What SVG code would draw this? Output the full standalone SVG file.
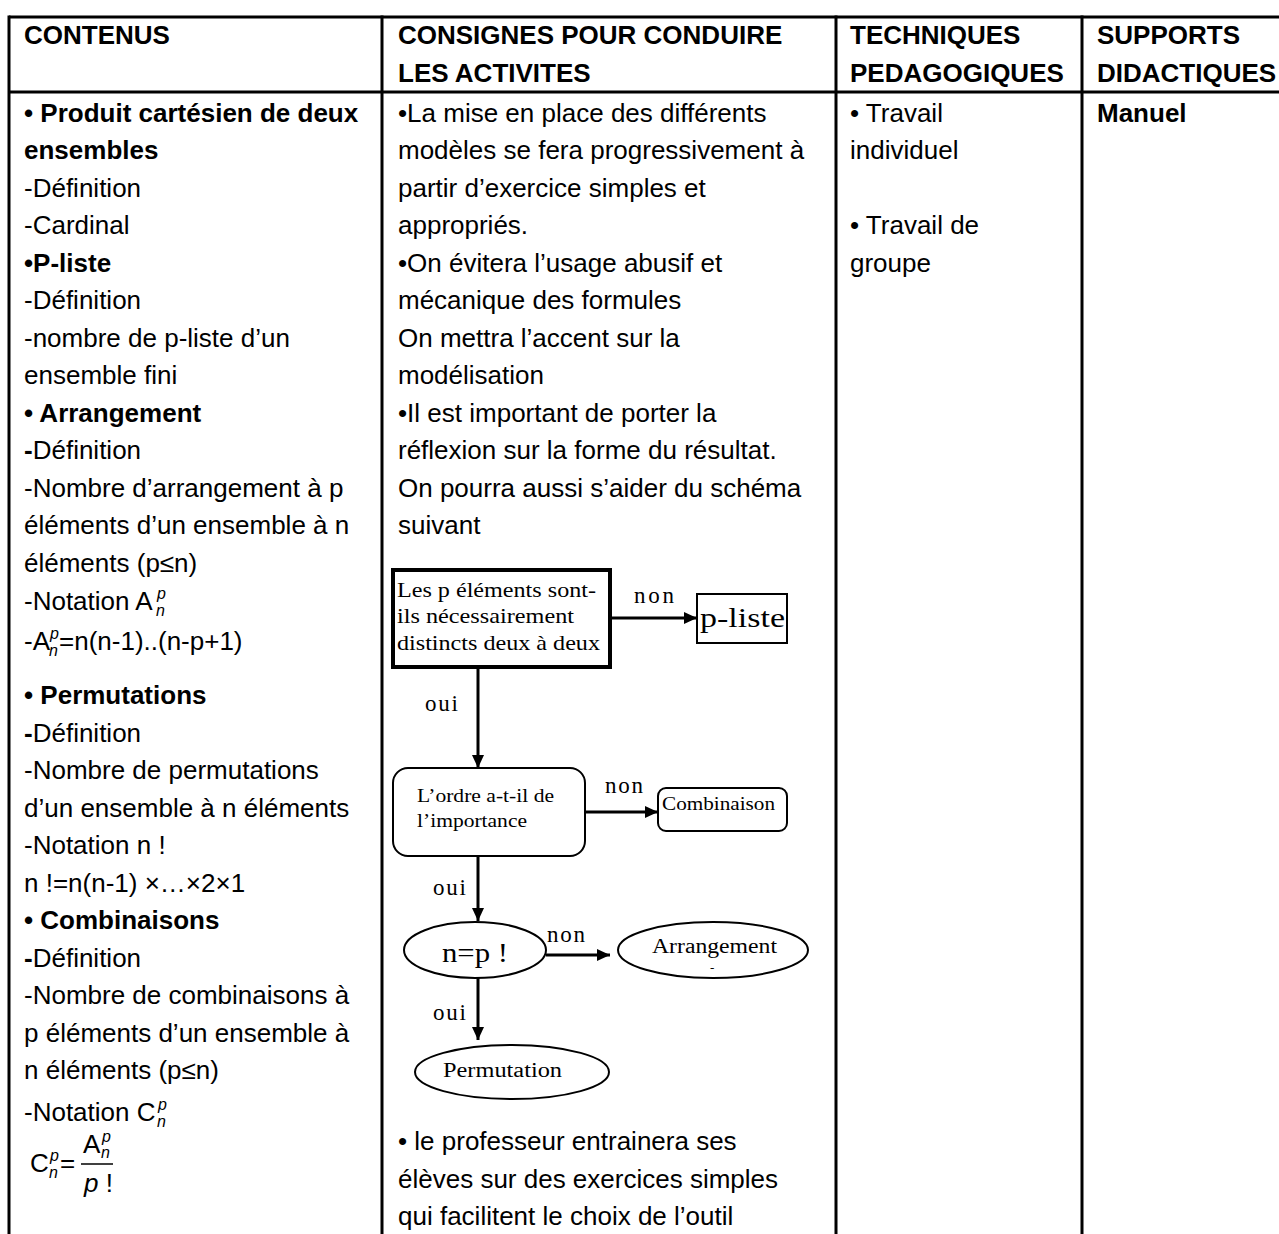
<svg xmlns="http://www.w3.org/2000/svg" width="1279" height="1234" viewBox="0 0 1279 1234">
<defs>
<style>
.t{font-family:"Liberation Sans",Arial,sans-serif;font-size:26px;fill:#000}
.b{font-weight:bold}
.i{font-style:italic;font-size:16px}
.s{font-family:"Liberation Serif","Times New Roman",serif;fill:#000}
.grid{stroke:#000;stroke-width:3;fill:none}
.conn{stroke:#000;stroke-width:3;fill:none;marker-end:url(#ah)}
.shape{fill:#fff;stroke:#000;stroke-width:2}
</style>
<marker id="ah" markerUnits="userSpaceOnUse" markerWidth="13" markerHeight="12" refX="13" refY="6" orient="auto">
<path d="M0,0 L13,6 L0,12 z" fill="#000"/>
</marker>
</defs>
<rect width="1279" height="1234" fill="#fff"/>

<g id="table-grid" class="grid">
<line x1="9" y1="17" x2="1279" y2="17"/>
<line x1="9" y1="92" x2="1279" y2="92"/>
<line x1="9" y1="15.5" x2="9" y2="1234"/>
<line x1="382" y1="15.5" x2="382" y2="1234"/>
<line x1="836" y1="15.5" x2="836" y2="1234"/>
<line x1="1082" y1="15.5" x2="1082" y2="1234"/>
</g>

<g id="header" class="t b">
<text x="24" y="44">CONTENUS</text>
<text x="398" y="44">CONSIGNES POUR CONDUIRE</text>
<text x="398" y="81.5">LES ACTIVITES</text>
<text x="850" y="44">TECHNIQUES</text>
<text x="850" y="81.5">PEDAGOGIQUES</text>
<text x="1097" y="44">SUPPORTS</text>
<text x="1097" y="81.5">DIDACTIQUES</text>
</g>

<g id="col-contenus" class="t">
<text x="24" y="121.7" class="b">• Produit cartésien de deux</text>
<text x="24" y="159.2" class="b">ensembles</text>
<text x="24" y="196.7">-Définition</text>
<text x="24" y="234.2">-Cardinal</text>
<text x="24" y="271.7" class="b">•P-liste</text>
<text x="24" y="309.2">-Définition</text>
<text x="24" y="346.7">-nombre de p-liste d’un</text>
<text x="24" y="384.2">ensemble fini</text>
<text x="24" y="421.7" class="b">• Arrangement</text>
<text x="24" y="459.2"><tspan font-weight="bold">-</tspan>Définition</text>
<text x="24" y="496.7">-Nombre d’arrangement à p</text>
<text x="24" y="534.2">éléments d’un ensemble à n</text>
<text x="24" y="571.7">éléments (p≤n)</text>
<text x="24" y="610">-Notation A</text>
<text x="157" y="599" class="i">p</text>
<text x="156" y="616" class="i">n</text>
<text x="24" y="650">-A</text>
<text x="50" y="639" class="i">p</text>
<text x="49" y="656" class="i">n</text>
<text x="59" y="650">=n(n-1)..(n-p+1)</text>
<text x="24" y="704" class="b">• Permutations</text>
<text x="24" y="741.7"><tspan font-weight="bold">-</tspan>Définition</text>
<text x="24" y="779.2">-Nombre de permutations</text>
<text x="24" y="816.7">d’un ensemble à n éléments</text>
<text x="24" y="854.2">-Notation n !</text>
<text x="24" y="891.7">n !=n(n-1) ×…×2×1</text>
<text x="24" y="929.2" class="b">• Combinaisons</text>
<text x="24" y="966.7"><tspan font-weight="bold">-</tspan>Définition</text>
<text x="24" y="1004.2">-Nombre de combinaisons à</text>
<text x="24" y="1041.7">p éléments d’un ensemble à</text>
<text x="24" y="1079.2">n éléments (p≤n)</text>
<text x="24" y="1121">-Notation C</text>
<text x="158" y="1110" class="i">p</text>
<text x="157" y="1127" class="i">n</text>
<text x="30" y="1172">C</text>
<text x="50" y="1161" class="i">p</text>
<text x="49" y="1178" class="i">n</text>
<text x="60" y="1172">=</text>
<text x="83" y="1153">A</text>
<text x="102" y="1142" class="i">p</text>
<text x="101" y="1158" class="i">n</text>
<line x1="81" y1="1164" x2="113" y2="1164" stroke="#000" stroke-width="1.5"/>
<text x="84" y="1192"><tspan font-style="italic">p</tspan> !</text>
</g>

<g id="col-consignes" class="t">
<text x="398" y="121.7">•La mise en place des différents</text>
<text x="398" y="159.2">modèles se fera progressivement à</text>
<text x="398" y="196.7">partir d’exercice simples et</text>
<text x="398" y="234.2">appropriés.</text>
<text x="398" y="271.7">•On évitera l’usage abusif et</text>
<text x="398" y="309.2">mécanique des formules</text>
<text x="398" y="346.7">On mettra l’accent sur la</text>
<text x="398" y="384.2">modélisation</text>
<text x="398" y="421.7">•Il est important de porter la</text>
<text x="398" y="459.2">réflexion sur la forme du résultat.</text>
<text x="398" y="496.7">On pourra aussi s’aider du schéma</text>
<text x="398" y="534.2">suivant</text>
<text x="398" y="1150">• le professeur entrainera ses</text>
<text x="398" y="1187.5">élèves sur des exercices simples</text>
<text x="398" y="1225">qui facilitent le choix de l’outil</text>
</g>

<g id="col-techniques" class="t">
<text x="850" y="121.7">• Travail</text>
<text x="850" y="159.2">individuel</text>
<text x="850" y="234.2">• Travail de</text>
<text x="850" y="271.7">groupe</text>
</g>

<g id="col-supports" class="t b">
<text x="1097" y="121.7">Manuel</text>
</g>

<g id="connectors">
<line class="conn" x1="610" y1="618" x2="697" y2="618"/>
<line class="conn" x1="478" y1="667" x2="478" y2="768"/>
<line class="conn" x1="585" y1="812" x2="658" y2="812"/>
<line class="conn" x1="478" y1="856" x2="478" y2="921"/>
<line class="conn" x1="546" y1="955" x2="610" y2="955"/>
<line class="conn" x1="478" y1="978" x2="478" y2="1040"/>
<g class="s" font-size="23">
<text x="634" y="603" textLength="40">non</text>
<text x="425" y="711" textLength="33">oui</text>
<text x="605" y="793" textLength="38">non</text>
<text x="433" y="895" textLength="33">oui</text>
<text x="547" y="942" textLength="38">non</text>
<text x="433" y="1020" textLength="33">oui</text>
</g>
</g>

<g id="node-distincts">
<rect x="393" y="570" width="217" height="97" fill="#fff" stroke="#000" stroke-width="4"/>
<g class="s" font-size="22">
<text x="397" y="597" textLength="199" lengthAdjust="spacingAndGlyphs">Les p éléments sont-</text>
<text x="397" y="623" textLength="177" lengthAdjust="spacingAndGlyphs">ils nécessairement</text>
<text x="397" y="650" textLength="203" lengthAdjust="spacingAndGlyphs">distincts deux à deux</text>
</g>
</g>

<g id="node-pliste">
<rect x="697" y="594" width="90" height="49" class="shape"/>
<text x="700" y="627" class="s" font-size="28" textLength="85" lengthAdjust="spacingAndGlyphs">p-liste</text>
</g>

<g id="node-ordre">
<rect x="393" y="768" width="192" height="88" rx="15" ry="15" class="shape"/>
<text x="417" y="802" class="s" font-size="19" textLength="137" lengthAdjust="spacingAndGlyphs">L’ordre a-t-il de</text>
<text x="417" y="827" class="s" font-size="19" textLength="110" lengthAdjust="spacingAndGlyphs">l’importance</text>
</g>

<g id="node-combinaison">
<rect x="658" y="788" width="129" height="43" rx="8" ry="8" class="shape"/>
<text x="662" y="810" class="s" font-size="18" textLength="113" lengthAdjust="spacingAndGlyphs">Combinaison</text>
</g>

<g id="node-np">
<ellipse cx="475" cy="950" rx="71" ry="28" class="shape"/>
<text x="442" y="962" class="s" font-size="27" textLength="66" lengthAdjust="spacingAndGlyphs">n=p !</text>
</g>

<g id="node-arrangement">
<ellipse cx="713" cy="950" rx="95" ry="28" class="shape"/>
<text x="652" y="953" class="s" font-size="20" textLength="125" lengthAdjust="spacingAndGlyphs">Arrangement</text>
<text x="710" y="972" class="s" font-size="13">-</text>
</g>

<g id="node-permutation">
<ellipse cx="512" cy="1072" rx="97" ry="27" class="shape"/>
<text x="443" y="1077" class="s" font-size="20" textLength="119" lengthAdjust="spacingAndGlyphs">Permutation</text>
</g>
</svg>
